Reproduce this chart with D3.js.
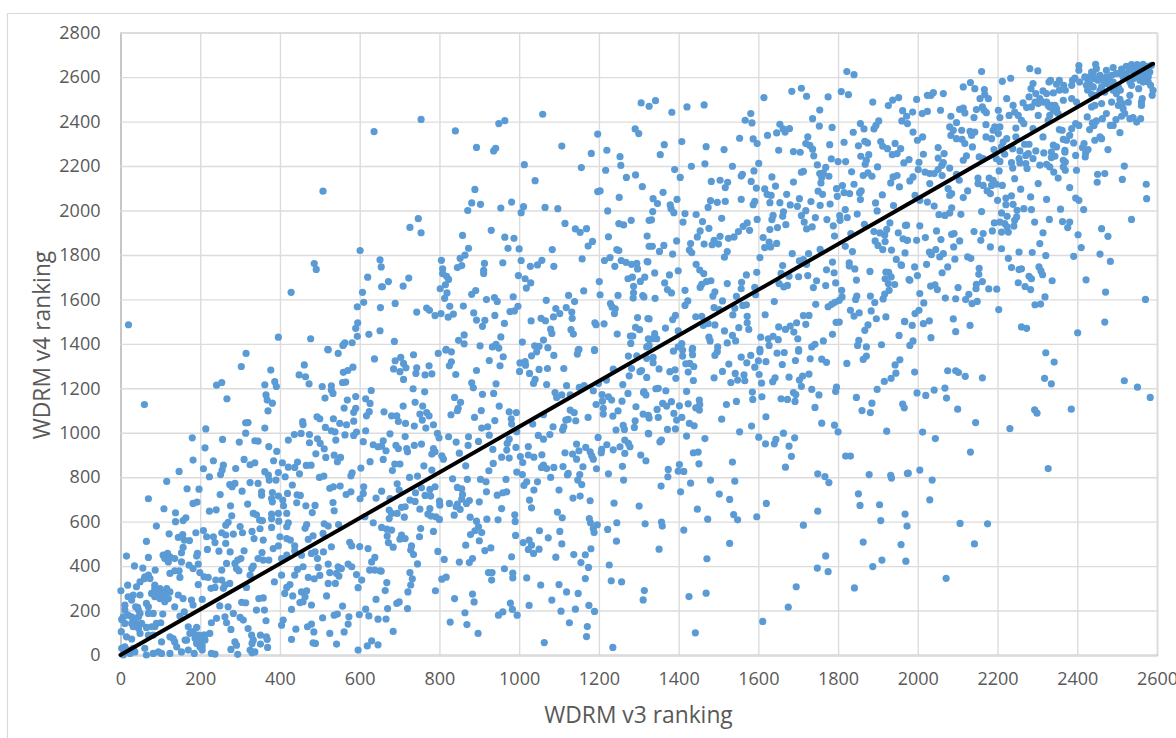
<!DOCTYPE html>
<html>
<head>
<meta charset="utf-8">
<script src="https://cdn.jsdelivr.net/npm/d3@7"></script>
<style>
  html, body { margin: 0; padding: 0; background: #fff; overflow: hidden; }
  svg { display: block; }
  text { font-family: "Open Sans", sans-serif; fill: #595959; }
</style>
</head>
<body>
<svg id="chart"></svg>
<script>
// values, as [v3 rank, v4 rank], split by area of the plot
const upperBand1 = [[636,2355],[508,2087],[601,1820],[651,1778],[654,1746],[486,1761],[491,1735],[620,1700],[428,1632],[655,1657],[607,1632],[610,1587],[594,1567],[652,1563],[595,1495],[590,1470],[594,1434],[623,1443],[651,1459],[20,1486],[396,1430],[477,1423],[581,1405],[563,1405],[558,1393],[520,1375]]

const upperBand2 = [[754,2410],[840,2358],[949,2391],[964,2404],[1059,2433],[1306,2484],[1326,2469],[893,2284],[936,2268],[941,2280],[1107,2290],[1197,2344],[1291,2367],[1300,2346],[1220,2271],[1181,2257],[1253,2242],[1255,2203],[1013,2206],[1156,2193],[1217,2181],[1292,2160],[1269,2149],[1040,2134],[1309,2107],[889,2095],[1197,2085],[1203,2088],[1251,2059],[881,2034],[903,2028],[981,2038],[1011,2017],[954,2011],[871,2000],[1005,1990],[1065,2014],[1097,2008],[1222,1998],[747,1963],[726,1924],[754,1900],[1115,1942],[1141,1917],[1153,1902],[1169,1918],[1281,1956],[1250,1941],[1262,1935],[1326,1956],[858,1888],[930,1911],[964,1880],[987,1875],[1321,1885],[1224,1882],[1184,1861],[1173,1840],[873,1830],[972,1830],[1000,1827],[1083,1824],[1245,1824],[1250,1820],[1326,1839],[864,1799],[852,1785],[805,1776],[1158,1782],[1228,1788],[1214,1775],[913,1762],[959,1765],[1005,1775],[1057,1776],[1046,1755],[1028,1749],[1087,1749],[1256,1775],[1268,1767],[1282,1758],[1295,1762],[1321,1770],[1240,1749],[1297,1737],[845,1743],[856,1752],[808,1738],[808,1716],[818,1704],[823,1690],[911,1731],[911,1717],[998,1707],[1015,1693],[1029,1674],[1018,1651],[1201,1680],[1273,1693],[1284,1700],[1304,1681],[1315,1700],[1287,1659],[1287,1630],[1286,1606],[1310,1617],[1313,1611],[672,1680],[657,1657],[709,1660],[723,1696],[815,1666],[802,1648],[819,1629],[813,1605],[891,1640],[881,1623],[918,1599],[938,1608],[945,1591],[985,1612],[1162,1638],[1068,1596],[1124,1618],[1139,1590],[1203,1621],[1248,1618],[689,1582],[743,1543],[768,1561],[775,1551],[789,1527],[804,1536],[822,1520],[835,1534],[826,1569],[860,1570],[886,1539],[893,1507],[914,1506],[908,1479],[939,1528],[963,1492],[977,1545],[988,1548],[997,1569],[1030,1503],[1055,1515],[1066,1504],[1079,1466],[1082,1447],[1086,1521],[1092,1559],[1102,1536],[1118,1563],[1132,1543],[1133,1515],[1130,1464],[1136,1444],[1190,1495],[1193,1486],[1213,1490],[1229,1581],[1233,1566],[1241,1558],[1239,1536],[1297,1518],[1292,1474],[1302,1464],[1323,1514],[1246,1444],[1279,1435],[1285,1435],[1280,1402],[1324,1423],[1320,1386],[1008,1408],[954,1431],[862,1440],[848,1416],[862,1400],[902,1391],[933,1386],[942,1398],[949,1381],[687,1411],[1061,1417],[1039,1391],[1050,1389],[1072,1383],[1150,1375],[1189,1374],[817,1375]]

const upperBand3 = [[1822,2625],[1840,2611],[1808,2535],[1826,2521],[1684,2536],[1708,2550],[1721,2514],[1614,2508],[1775,2511],[1887,2488],[1952,2508],[1937,2497],[1926,2472],[1342,2494],[1383,2442],[1421,2466],[1464,2475],[1581,2436],[1567,2406],[1584,2394],[1754,2452],[1736,2413],[1753,2380],[1785,2374],[1856,2391],[1865,2367],[1902,2403],[1895,2383],[1890,2367],[1962,2449],[1972,2424],[1960,2403],[1974,2391],[1654,2388],[1662,2367],[1678,2368],[1667,2353],[1646,2349],[1623,2338],[1724,2331],[1553,2325],[1587,2322],[1597,2301],[1838,2352],[1408,2310],[1364,2296],[1354,2251],[1469,2287],[1514,2274],[1651,2271],[1688,2265],[1705,2262],[1719,2301],[1729,2293],[1736,2276],[1739,2246],[1779,2296],[1815,2307],[1851,2291],[1867,2311],[1874,2304],[1907,2310],[1912,2289],[1924,2278],[1943,2302],[1957,2278],[1948,2256],[1936,2251],[1857,2244],[1877,2251],[1871,2226],[1868,2208],[1783,2232],[1800,2220],[1819,2220],[1965,2214],[1978,2229],[1899,2196],[1748,2205],[1769,2194],[1601,2212],[1535,2199],[1466,2210],[1432,2199],[1390,2184],[1404,2149],[1589,2178],[1557,2155],[1560,2163],[1634,2151],[1582,2131],[1482,2131],[1504,2136],[1523,2127],[1517,2103],[1595,2101],[1616,2097],[1643,2110],[1688,2128],[1708,2172],[1713,2176],[1754,2166],[1763,2169],[1777,2154],[1759,2148],[1757,2124],[1834,2174],[1863,2157],[1875,2169],[1885,2154],[1932,2124],[1938,2151],[1948,2157],[1954,2106],[1840,2118],[1750,2087],[1761,2073],[1796,2098],[1811,2112],[1815,2080],[1829,2076],[1798,2064],[1858,2088],[1854,2079],[1856,2049],[1911,2070],[1894,2034],[1939,2022],[1898,1998],[1361,2082],[1336,2053],[1347,2031],[1396,2050],[1379,2025],[1381,2008],[1388,1990],[1335,1995],[1332,1958],[1416,1986],[1411,1948],[1444,1982],[1460,1950],[1476,1920],[1454,1908],[1447,1881],[1480,2044],[1474,2014],[1497,2037],[1517,2041],[1557,2050],[1591,2041],[1587,2026],[1622,2073],[1632,2068],[1629,2035],[1654,2035],[1671,2073],[1680,2025],[1698,2019],[1703,2053],[1732,2040],[1755,2023],[1780,2029],[1508,1965],[1597,1960],[1637,1978],[1634,1959],[1663,1994],[1661,1974],[1708,1977],[1719,1999],[1715,1948],[1743,1968],[1772,1959],[1804,1977],[1818,2004],[1823,1968],[1805,1956],[1848,1984],[1788,1931],[1721,1917],[1735,1926],[1669,1936],[1648,1923],[1629,1914],[1572,1944],[1562,1929],[1578,1911],[1550,1905],[1504,1884],[1539,1881],[1525,1875],[1612,1878],[1791,1885],[1866,1938],[1930,1944],[1922,1915],[1890,1905],[1905,1899],[1917,1890],[1951,1900],[1969,1933],[1963,1873],[1974,1866],[1832,1896],[1334,1839],[1363,1843],[1352,1816],[1395,1863],[1385,1804],[1430,1851],[1427,1822],[1433,1810],[1464,1849],[1489,1866],[1484,1846],[1500,1849],[1522,1815],[1515,1790],[1604,1788],[1616,1833],[1627,1858],[1631,1836],[1646,1852],[1685,1806],[1703,1773],[1713,1779],[1726,1806],[1721,1758],[1755,1825],[1818,1839],[1836,1815],[1893,1863],[1900,1843],[1912,1824],[1918,1860],[1934,1822],[1968,1809],[1946,1780],[1958,1756],[1786,1768],[1828,1765],[1828,1750],[1842,1737],[1880,1726],[1771,1733],[1790,1720],[1846,1687],[1920,1723],[1927,1722],[1918,1693],[1933,1701],[1926,1671],[1942,1667],[1928,1641],[1917,1624],[1913,1602],[1978,1689],[1794,1674],[1769,1662],[1746,1684],[1738,1653],[1724,1707],[1701,1702],[1677,1704],[1661,1752],[1657,1717],[1652,1671],[1664,1656],[1673,1663],[1596,1722],[1570,1710],[1558,1677],[1557,1648],[1591,1654],[1593,1621],[1545,1614],[1522,1671],[1510,1593],[1491,1634],[1486,1615],[1481,1684],[1470,1680],[1458,1668],[1454,1654],[1444,1758],[1453,1732],[1463,1716],[1399,1729],[1377,1710],[1340,1719],[1323,1769],[1365,1674],[1372,1644],[1382,1629],[1341,1605],[1416,1641],[1423,1593],[1416,1573],[1809,1641],[1810,1611],[1803,1596],[1847,1615],[1844,1600],[1881,1615],[1892,1586],[1640,1590],[1744,1578],[1775,1567],[1784,1578],[1792,1587],[1561,1573],[1570,1576],[1541,1560],[1489,1563],[1502,1554],[1617,1531],[1831,1551],[1840,1525],[1853,1539],[1883,1548],[1896,1513],[1920,1521],[1967,1501],[1443,1522],[1458,1524],[1392,1528],[1385,1509],[1326,1512],[1536,1530],[1572,1524],[1572,1495],[1576,1465],[1551,1473],[1491,1485],[1474,1491],[1462,1483],[1713,1527],[1727,1528],[1719,1488],[1696,1495],[1680,1480],[1668,1465],[1651,1476],[1689,1453],[1699,1423],[1795,1497],[1803,1498],[1786,1443],[1875,1485],[1867,1461],[1852,1416],[1849,1393],[1909,1396],[1871,1386],[1953,1438],[1367,1471],[1399,1458],[1515,1458],[1535,1438],[1543,1413],[1522,1404],[1476,1430],[1479,1413],[1498,1386],[1435,1380],[1408,1401],[1399,1386],[1340,1446],[1334,1423],[1326,1393],[1345,1423],[1606,1430],[1625,1423],[1637,1434],[1650,1419],[1627,1393],[1763,1413],[1742,1398],[1734,1386],[1701,1374],[1604,1375]]

const upperBand4 = [[2160,2625],[2281,2638],[2301,2628],[2212,2581],[2233,2595],[2404,2652],[2404,2631],[2446,2658],[2448,2638],[2436,2623],[2490,2643],[2473,2631],[2511,2636],[2523,2649],[2536,2656],[2550,2656],[2565,2658],[2578,2649],[2586,2653],[2532,2631],[2544,2623],[2557,2623],[2572,2619],[2582,2623],[2578,2601],[2565,2601],[2553,2601],[2540,2593],[2578,2578],[2584,2563],[2590,2541],[2588,2518],[2554,2548],[2536,2563],[2532,2578],[2515,2601],[2498,2616],[2486,2608],[2473,2601],[2457,2608],[2444,2593],[2431,2601],[2419,2601],[2440,2616],[2427,2586],[2423,2563],[2426,2541],[2436,2523],[2448,2518],[2461,2556],[2472,2571],[2490,2578],[2503,2556],[2498,2526],[2508,2541],[2532,2518],[2406,2578],[2388,2586],[2386,2563],[2394,2596],[2355,2586],[2366,2563],[2348,2568],[2333,2586],[2329,2578],[2289,2571],[2284,2548],[2279,2511],[2296,2526],[2314,2538],[2323,2526],[2340,2529],[2355,2541],[2370,2541],[2365,2496],[2386,2503],[2398,2488],[2563,2503],[2561,2488],[2561,2473],[2528,2487],[2507,2500],[2513,2481],[2503,2473],[2515,2458],[2519,2436],[2511,2424],[2497,2409],[2532,2413],[2540,2418],[2549,2398],[2559,2413],[2507,2350],[2483,2383],[2490,2383],[2486,2488],[2461,2481],[2444,2473],[2436,2466],[2473,2436],[2463,2413],[2448,2403],[2438,2394],[2431,2364],[2442,2383],[2425,2421],[2404,2383],[2396,2391],[2386,2368],[2381,2338],[2373,2316],[2362,2361],[2355,2364],[2369,2271],[2365,2320],[2340,2294],[2348,2286],[2335,2263],[2344,2244],[2335,2238],[2369,2262],[2365,2226],[2370,2218],[2365,2196],[2370,2181],[2398,2181],[2396,2248],[2391,2304],[2417,2301],[2413,2283],[2427,2274],[2421,2259],[2420,2241],[2444,2316],[2457,2331],[2461,2323],[2477,2274],[2340,2451],[2348,2458],[2327,2473],[2314,2488],[2302,2481],[2285,2466],[2273,2463],[2264,2484],[2239,2473],[2243,2443],[2223,2503],[2202,2451],[2206,2418],[2229,2428],[2252,2428],[2260,2406],[2266,2391],[2302,2428],[2331,2428],[2352,2436],[2327,2406],[2289,2368],[2314,2331],[2246,2371],[2206,2376],[2193,2376],[2171,2386],[2189,2361],[2202,2346],[2171,2331],[2185,2323],[2223,2323],[2214,2308],[2246,2331],[2210,2286],[2191,2274],[2238,2278],[2268,2298],[2279,2298],[2256,2268],[2271,2248],[2277,2256],[2289,2233],[2296,2268],[2316,2259],[2306,2204],[2323,2208],[2331,2196],[2341,2173],[2352,2146],[2218,2253],[2206,2221],[2197,2233],[2204,2178],[2235,2215],[2238,2191],[2243,2143],[2256,2214],[2271,2211],[2254,2233],[2274,2189],[2154,2241],[2164,2233],[2114,2226],[2122,2246],[2137,2286],[2118,2439],[2105,2455],[2114,2461],[2080,2376],[2089,2361],[2083,2424],[2097,2395],[2083,2338],[2097,2323],[2110,2361],[2111,2320],[2118,2301],[2131,2356],[2143,2353],[2135,2338],[2141,2418],[2147,2454],[2162,2466],[2166,2451],[2172,2440],[2156,2503],[2167,2544],[2168,2521],[2177,2503],[2143,2548],[2132,2576],[2114,2556],[2064,2526],[2039,2530],[2033,2518],[2024,2518],[1997,2500],[2057,2451],[2024,2446],[2011,2436],[1987,2443],[1988,2353],[1999,2316],[2012,2331],[2051,2283],[2066,2256],[2051,2236],[2014,2253],[2003,2217],[2001,2184],[2018,2173],[2030,2166],[2041,2166],[2051,2184],[2060,2203],[2064,2215],[2080,2191],[2061,2157],[1988,2151],[1980,2133],[2097,2163],[2104,2136],[2151,2146],[2151,2121],[2164,2113],[2179,2146],[2189,2136],[2197,2118],[2212,2113],[2185,2113],[2174,2088],[2182,2076],[2258,2096],[2302,2121],[2200,2046],[2221,2056],[2235,2066],[2221,2026],[2239,2028],[2283,2061],[2323,2050],[2381,2103],[2396,2056],[2404,2046],[2451,2163],[2469,2166],[2450,2127],[2513,2140],[2518,2200],[2573,2118],[2574,2053],[2571,1600],[2076,2098],[2085,2076],[2125,2088],[2114,2058],[2080,2068],[2030,2121],[1993,2068],[2005,2046],[2024,2038],[2041,2020],[2085,2012],[2053,1981],[2068,1978],[2080,1989],[2108,1983],[2160,1995],[2249,2001],[2266,2008],[2285,2004],[2210,1989],[2224,1974],[2248,1971],[2243,1956],[2358,2006],[2416,2004],[2330,1960],[2293,1948],[2363,1950],[2381,1948],[2376,1923],[2536,1960],[2192,1944],[2206,1948],[2218,1941],[2241,1930],[2224,1926],[2187,1908],[2210,1903],[2227,1903],[2005,1931],[1972,1934],[2047,1908],[2085,1893],[2091,1896],[2141,1905],[2164,1896],[2158,1866],[2314,1900],[2402,1891],[2461,1918],[2477,1884],[2019,1878],[1997,1866],[1973,1866],[2058,1869],[2105,1863],[2090,1836],[2182,1836],[2210,1828],[2306,1851],[2410,1833],[2029,1813],[2034,1801],[2045,1824],[2055,1791],[2064,1806],[2093,1781],[2125,1791],[2133,1785],[2227,1785],[2254,1813],[2287,1811],[2321,1797],[2391,1794],[2457,1804],[2483,1771],[1959,1753],[1992,1746],[2022,1758],[2075,1746],[2061,1720],[1999,1707],[1980,1686],[2154,1740],[2153,1713],[2235,1743],[2254,1734],[2260,1738],[2304,1746],[2309,1728],[2313,1711],[2279,1704],[2285,1693],[2337,1684],[2422,1688],[2252,1675],[2269,1658],[2283,1644],[2162,1680],[2147,1668],[2146,1648],[2178,1647],[2198,1646],[2101,1653],[2032,1660],[2043,1666],[2049,1644],[2005,1626],[2069,1606],[2095,1603],[2120,1599],[2128,1623],[2136,1581],[2149,1591],[2015,1584],[2319,1611],[2294,1576],[2308,1579],[2471,1633],[2203,1554],[2003,1551],[1993,1536],[2089,1512],[2029,1503],[2014,1491],[1986,1483],[1967,1500],[2131,1483],[2095,1455],[2260,1476],[2273,1470],[2469,1498],[2401,1450],[2033,1428],[1988,1413],[1980,1393]]

// tight group at the top right, where the dots run together
const upperRightCluster = [[2431,2571],[2440,2556],[2452,2586],[2465,2586],[2478,2586],[2457,2541],[2469,2533],[2482,2556],[2490,2541],[2540,2631],[2523,2616],[2507,2616],[2549,2638],[2561,2638],[2574,2638],[2565,2578],[2557,2586],[2323,2488],[2335,2473],[2344,2473],[2348,2443],[2331,2466],[2306,2503],[2294,2488]]

const lowerBand1 = [[315,1357],[303,1298],[377,1282],[461,1305],[521,1373],[546,1357],[559,1395],[637,1332],[448,1260],[464,1252],[473,1220],[559,1272],[570,1280],[583,1295],[557,1226],[565,1228],[387,1230],[391,1208],[362,1216],[241,1214],[254,1226],[506,1208],[529,1211],[529,1192],[533,1177],[513,1156],[629,1190],[365,1170],[368,1147],[381,1133],[60,1127],[267,1153],[590,1163],[569,1147],[615,1153],[626,1132],[561,1111],[590,1110],[585,1092],[624,1095],[617,1076],[370,1098],[493,1072],[500,1063],[457,1050],[458,1037],[534,1063],[585,1052],[550,1042],[567,1036],[314,1045],[320,1046],[362,1021],[214,1017],[314,998],[514,1024],[529,1009],[538,1004],[615,1009],[180,977],[256,970],[298,958],[337,964],[345,962],[421,967],[436,992],[453,997],[474,992],[474,955],[494,973],[501,952],[540,967],[563,990],[585,988],[592,1003],[609,960],[634,946],[646,937],[212,932],[372,938],[392,916],[511,928],[490,905],[515,889],[536,899],[552,889],[544,870],[182,877],[233,874],[310,880],[325,856],[337,865],[384,874],[406,865],[444,868],[437,844],[421,845],[466,853],[478,854],[289,839],[208,838],[258,854],[255,832],[251,812],[147,826],[223,802],[362,825],[371,809],[373,787],[390,787],[396,821],[413,802],[449,815],[499,799],[510,805],[581,820],[578,806],[603,841],[626,870],[116,781],[274,767],[287,772],[280,757],[325,776],[345,772],[431,765],[305,737],[167,748],[197,746],[354,734],[354,719],[381,731],[379,704],[396,715],[419,727],[443,721],[451,718],[442,685],[525,750],[534,757],[551,760],[566,722],[578,734],[610,757],[609,727],[601,703],[641,706],[250,722],[70,703],[182,682],[192,688],[319,679],[276,671],[407,697],[409,671],[381,689],[533,686],[536,649],[465,671],[488,673],[481,641],[109,658],[223,647],[240,653],[138,640],[417,637],[279,626],[333,637],[341,631],[379,634],[379,614],[396,637],[164,617],[157,605],[138,600],[270,597],[264,584],[349,607],[356,605],[397,602],[90,580],[300,578],[350,568],[379,574],[421,595],[417,577],[467,587],[463,570],[511,590],[521,580],[547,587],[613,622],[634,595],[122,545],[208,560],[189,550],[216,532],[233,532],[254,550],[264,540],[283,544],[306,550],[330,556],[335,524],[358,517],[508,547],[483,536],[471,520],[400,532],[417,524],[426,517],[65,511],[156,542],[145,529],[160,517],[173,515],[237,506],[264,502],[157,484],[153,460],[218,475],[247,467],[275,464],[310,469],[355,461],[383,479],[396,491],[437,491],[437,469],[529,487],[575,507],[580,491],[600,488],[621,479],[15,445],[70,439],[107,449],[118,457],[111,434],[120,419],[136,434],[153,419],[193,457],[191,445],[302,434],[294,427],[345,434],[358,427],[372,427],[404,434],[417,449],[454,449],[479,457],[488,464],[494,434],[509,464],[638,439],[630,419],[35,401],[56,391],[87,382],[172,404],[195,409],[266,412],[287,412],[291,389],[297,379],[254,382],[182,389],[333,400],[329,389],[136,379],[124,367],[147,379],[149,349],[70,359],[60,344],[49,329],[40,307],[18,314],[1,289],[496,394],[521,409],[546,397],[554,389],[571,409],[580,397],[458,397],[444,385],[437,359],[525,371],[542,367],[548,355],[500,358],[404,359],[199,371],[210,352],[220,349],[254,337],[239,337],[274,322],[262,315],[195,317],[237,304],[227,300],[258,300],[316,304],[325,359],[386,329],[425,317],[417,304],[471,349],[486,343],[521,322],[539,322],[592,362],[605,337],[625,382],[638,382],[651,379],[596,303],[86,314],[95,284],[78,277],[90,270],[107,284],[116,299],[124,284],[111,265],[99,254],[111,240],[19,262],[32,270],[49,270],[28,247],[145,270],[157,254],[178,247],[182,225],[205,250],[136,217],[65,232],[43,214],[11,224],[11,202],[454,284],[467,289],[412,277],[432,266],[463,262],[517,266],[450,236],[458,240],[347,254],[358,257],[304,237],[314,235],[479,225],[557,220],[429,205],[641,250],[270,217],[249,221],[283,187],[341,202],[361,202],[615,206],[160,194],[149,175],[82,187],[70,187],[106,184],[45,202],[28,172],[3,160],[45,172],[40,142],[28,142],[45,120],[101,145],[90,142],[78,127],[65,124],[228,145],[241,165],[262,172],[266,145],[300,169],[308,157],[277,115],[320,119],[365,154],[408,157],[404,134],[507,167],[536,179],[544,184],[573,172],[599,182],[623,176],[646,161],[571,139],[469,127],[479,139],[440,116],[485,104],[525,97],[561,104],[429,70],[483,55],[489,52],[542,49],[619,41],[630,64],[646,46],[596,22],[170,127],[191,124],[182,105],[174,97],[208,90],[224,97],[195,90],[162,67],[124,82],[136,59],[103,59],[141,37],[82,89],[70,89],[2,105],[15,82],[28,72],[11,37],[3,30],[36,14],[19,22],[61,30],[65,0],[82,7],[95,14],[103,7],[124,7],[153,14],[170,22],[185,7],[166,67],[203,59],[212,67],[205,22],[199,37],[228,7],[237,4],[277,25],[294,3],[287,59],[291,44],[329,89],[333,67],[351,89],[366,82],[368,70],[351,49],[330,52],[369,34],[325,22],[337,14],[330,10],[7,0]]

// tight group at the bottom left
const lowerLeftCluster = [[38,217],[49,187],[36,157],[53,142],[32,127],[49,97],[86,127],[70,217],[86,299],[99,299],[86,262],[103,262],[120,254],[61,352],[74,344],[116,442],[124,442],[187,75],[199,75],[191,52],[212,90],[205,40],[132,74],[15,14],[24,7],[32,30],[7,172],[19,179],[11,142]]

const lowerBand2 = [[735,1351],[797,1357],[816,1372],[830,1364],[689,1324],[703,1339],[710,1312],[716,1292],[685,1287],[701,1275],[743,1292],[741,1267],[774,1301],[764,1260],[781,1265],[710,1240],[830,1319],[825,1301],[841,1262],[893,1280],[925,1325],[952,1301],[960,1342],[1002,1314],[1015,1320],[1016,1304],[1001,1276],[1026,1267],[1050,1285],[1071,1289],[1031,1346],[1044,1364],[1087,1348],[1112,1289],[1148,1372],[1146,1354],[1189,1370],[1274,1345],[1295,1346],[1320,1335],[1282,1289],[1303,1275],[1236,1286],[1320,1249],[1276,1256],[1219,1237],[1260,1217],[1040,1240],[1036,1222],[1069,1217],[881,1225],[885,1202],[942,1220],[734,1198],[763,1184],[908,1173],[936,1177],[1119,1212],[1151,1204],[1163,1212],[1199,1222],[1186,1189],[1090,1181],[1094,1159],[1107,1170],[1128,1170],[1208,1172],[1224,1162],[1232,1147],[1209,1142],[1193,1127],[1258,1142],[1273,1177],[1313,1185],[1318,1170],[1293,1117],[739,1137],[758,1120],[838,1159],[853,1137],[847,1110],[845,1099],[709,1120],[661,1094],[680,1076],[693,1076],[697,1051],[715,1042],[751,1084],[768,1091],[774,1076],[757,1057],[737,1030],[766,1021],[785,1036],[829,1081],[888,1069],[905,1100],[950,1120],[939,1055],[975,1094],[993,1091],[980,1062],[981,1039],[906,1021],[921,1027],[1034,1039],[1061,1081],[1128,1102],[1138,1091],[1117,1057],[1123,1060],[1142,1054],[1112,1027],[1109,1012],[1085,1027],[1173,1069],[1211,1110],[1211,1084],[1235,1075],[1248,1098],[1243,1012],[1261,1033],[1264,1015],[1291,1054],[1289,1024],[1311,1084],[1324,1078],[1324,997],[676,995],[714,983],[659,964],[655,940],[666,919],[659,880],[691,943],[697,929],[718,929],[720,914],[737,943],[755,949],[795,997],[799,977],[823,982],[842,958],[873,982],[872,943],[898,961],[925,989],[934,925],[850,908],[785,929],[789,914],[781,904],[806,896],[810,881],[975,971],[970,952],[969,922],[992,934],[994,1005],[1023,938],[1048,988],[1061,971],[1077,992],[1198,979],[1144,949],[1150,919],[1167,934],[1178,914],[1182,896],[1186,881],[1134,904],[1144,881],[1115,910],[1057,901],[1023,900],[1037,890],[1003,893],[1009,866],[956,890],[975,886],[935,862],[866,851],[924,829],[1220,946],[1207,925],[1206,910],[1236,923],[1253,937],[1265,967],[1274,952],[1278,937],[1265,907],[1305,900],[1318,874],[1259,849],[1194,838],[1224,815],[1262,787],[1160,847],[1152,812],[1147,787],[1157,767],[1123,817],[1110,848],[1121,810],[1087,844],[1061,854],[1069,839],[1056,844],[1079,799],[994,823],[1008,812],[688,859],[701,859],[682,830],[761,851],[781,832],[725,799],[745,805],[833,793],[870,790],[903,790],[917,779],[967,790],[1046,779],[1019,779],[1012,763],[694,770],[699,742],[655,737],[755,752],[740,730],[789,757],[776,745],[845,754],[856,748],[858,722],[856,701],[918,734],[969,734],[959,730],[945,719],[1037,742],[1100,742],[764,718],[778,715],[676,704],[726,697],[739,691],[800,692],[801,674],[875,695],[868,682],[900,689],[1026,697],[1031,662],[1135,706],[1153,715],[1178,694],[1238,683],[1301,670],[825,682],[845,679],[842,667],[852,655],[837,629],[705,664],[714,667],[751,656],[776,659],[771,634],[674,652],[680,637],[694,637],[674,614],[712,620],[779,625],[791,622],[800,610],[956,659],[989,631],[1096,643],[1108,617],[877,620],[893,602],[919,611],[947,608],[990,601],[1176,614],[1179,595],[1196,586],[1186,569],[1188,551],[1245,595],[1316,590],[655,574],[668,566],[680,562],[753,569],[750,532],[785,556],[669,535],[705,539],[701,521],[714,524],[898,577],[889,559],[906,551],[878,542],[1051,559],[1102,556],[1222,565],[991,538],[1073,527],[900,514],[672,506],[684,485],[730,491],[728,472],[735,452],[866,494],[796,466],[914,470],[929,482],[1010,506],[1025,517],[1031,494],[1023,475],[1036,457],[1050,476],[1107,500],[1180,478],[1244,512],[812,430],[850,418],[875,416],[883,434],[981,442],[1092,440],[1137,452],[1166,451],[1155,416],[745,410],[1174,394],[1226,405],[963,388],[726,371],[923,371],[932,371],[984,368],[732,343],[654,377],[668,326],[817,350],[806,341],[931,337],[984,347],[1019,347],[1166,344],[1231,334],[1257,329],[728,315],[1054,315],[1100,317],[664,290],[721,284],[790,289],[1119,284],[1148,277],[1314,290],[883,274],[838,254],[887,239],[1311,248],[1082,247],[693,232],[699,239],[978,233],[1025,223],[1175,223],[670,209],[720,209],[983,205],[1105,197],[1141,206],[1189,196],[864,190],[959,194],[948,179],[995,179],[666,162],[827,148],[869,137],[1126,145],[1171,128],[684,106],[897,97],[1169,83],[1063,56],[1235,34]]

const lowerBand3 = [[1387,1367],[1410,1372],[1434,1372],[1435,1351],[1410,1345],[1491,1348],[1497,1365],[1557,1340],[1581,1348],[1604,1365],[1647,1358],[1665,1361],[1701,1367],[1693,1325],[1730,1333],[1759,1331],[1771,1317],[1822,1312],[1863,1330],[1871,1345],[1336,1315],[1336,1339],[1418,1310],[1428,1312],[1438,1298],[1526,1309],[1571,1315],[1591,1295],[1600,1324],[1619,1320],[1660,1307],[1307,1280],[1351,1287],[1378,1275],[1391,1283],[1424,1273],[1393,1245],[1437,1235],[1489,1247],[1510,1276],[1542,1267],[1531,1226],[1548,1237],[1564,1260],[1566,1234],[1602,1262],[1608,1223],[1642,1247],[1636,1230],[1677,1250],[1711,1255],[1727,1264],[1703,1237],[1708,1209],[1916,1231],[1933,1245],[1945,1268],[1955,1328],[1943,1305],[1796,1205],[1794,1186],[1734,1195],[1752,1170],[1898,1195],[1343,1198],[1349,1200],[1368,1189],[1420,1186],[1585,1183],[1609,1162],[1586,1150],[1688,1181],[1694,1172],[1657,1153],[1673,1150],[1692,1141],[1846,1159],[1312,1181],[1360,1132],[1370,1120],[1382,1140],[1402,1121],[1424,1130],[1452,1147],[1453,1127],[1443,1112],[1452,1102],[1520,1127],[1545,1141],[1885,1133],[1962,1129],[1966,1112],[1742,1114],[1860,1100],[1881,1091],[1346,1105],[1388,1087],[1326,1066],[1349,1069],[1408,1069],[1395,1057],[1508,1061],[1619,1072],[1427,1042],[1439,1031],[1583,1030],[1759,1043],[1791,1034],[1372,1015],[1392,1017],[1553,1004],[1800,1004],[1922,1007],[1325,995],[1420,985],[1466,974],[1601,980],[1663,998],[1691,977],[1644,970],[1640,950],[1618,950],[1677,940],[1357,967],[1353,959],[1437,910],[1449,913],[1683,894],[1819,895],[1831,895],[1451,860],[1535,868],[1402,857],[1374,835],[1399,827],[1413,826],[1668,845],[1749,815],[1767,803],[1777,776],[1878,812],[1932,808],[1934,796],[1974,817],[1373,802],[1480,787],[1430,773],[1541,782],[1356,760],[1405,734],[1502,724],[1528,700],[1851,725],[1855,673],[1904,676],[1620,682],[1447,656],[1749,647],[1538,632],[1548,608],[1473,611],[1596,622],[1968,634],[1907,605],[1973,580],[1357,598],[1359,580],[1413,562],[1713,584],[1863,508],[1958,497],[1528,502],[1351,476],[1471,433],[1769,446],[1910,427],[1970,422],[1748,391],[1775,375],[1887,398],[1695,307],[1841,302],[1426,263],[1469,278],[1675,215],[1611,151],[1442,100]]

const lowerBand4 = [[2321,1360],[2342,1318],[1992,1273],[2075,1279],[2095,1279],[2102,1271],[2119,1254],[2162,1247],[2318,1245],[2335,1220],[2518,1234],[2551,1205],[2583,1159],[2068,1201],[2041,1192],[1998,1179],[2020,1168],[2072,1156],[2100,1106],[2293,1103],[2299,1088],[2385,1106],[2145,1046],[2231,1019],[2012,1003],[2044,974],[2132,913],[2327,839],[2005,832],[1976,818],[2036,787],[2030,698],[2106,592],[2175,590],[2142,500],[2071,345]]

const trendV3 = [0, 2590]
const trendV4 = [0, 2660]

const xTicks = d3.range(0, 2601, 200)
const yTicks = d3.range(0, 2801, 200)

const points = [].concat(upperBand1, upperBand2, upperBand3, upperBand4, upperRightCluster,
  lowerBand1, lowerLeftCluster, lowerBand2, lowerBand3, lowerBand4)

const width = 1176
const height = 738
const svg = d3.select("#chart").attr("width", width).attr("height", height)

// outer chart frame, runs off the right and bottom of the picture
svg.append("path")
  .attr("d", "M7.5," + height + "V13.5H" + width)
  .attr("fill", "none")
  .attr("stroke", "#d9d9d9")
  .attr("stroke-width", 1.2)

const x = d3.scaleLinear().domain([0, 2600]).range([120.5, 1157])
const y = d3.scaleLinear().domain([0, 2800]).range([655, 32.7])

const xAxis = svg.append("g")
  .attr("transform", "translate(0," + y(0) + ")")
  .call(d3.axisBottom(x).tickValues(xTicks).tickFormat(d3.format("d"))
    .tickSize(-(y(0) - y(2800))).tickPadding(17))

const yAxis = svg.append("g")
  .attr("transform", "translate(" + x(0) + ",0)")
  .call(d3.axisLeft(y).tickValues(yTicks).tickFormat(d3.format("d"))
    .tickSize(-(x(2600) - x(0))).tickPadding(20))

for (const axis of [xAxis, yAxis]) {
  axis.selectAll(".tick line").attr("stroke", "#dcdcdc").attr("stroke-width", 1.4)
  axis.selectAll(".domain").attr("stroke", "#bfbfbf").attr("stroke-width", 1.4)
  axis.selectAll("text").style("font-size", "18px").style("fill", "#595959")
}

svg.append("g")
  .selectAll("circle")
  .data(points)
  .enter()
  .append("circle")
  .attr("cx", d => x(d[0]))
  .attr("cy", d => y(d[1]))
  .attr("r", 3.6)
  .attr("fill", "#5b9bd5")

svg.append("line")
  .attr("x1", x(trendV3[0]))
  .attr("y1", y(trendV4[0]))
  .attr("x2", x(trendV3[1]))
  .attr("y2", y(trendV4[1]))
  .attr("stroke", "#000")
  .attr("stroke-width", 4)
  .attr("stroke-linecap", "round")

svg.append("text")
  .attr("x", 638.5)
  .attr("y", 723)
  .attr("text-anchor", "middle")
  .style("font-size", "22.8px")
  .text("WDRM v3 ranking")

svg.append("text")
  .attr("transform", "translate(50,345) rotate(-90)")
  .attr("text-anchor", "middle")
  .style("font-size", "22.8px")
  .text("WDRM v4 ranking")
</script>
</body>
</html>
